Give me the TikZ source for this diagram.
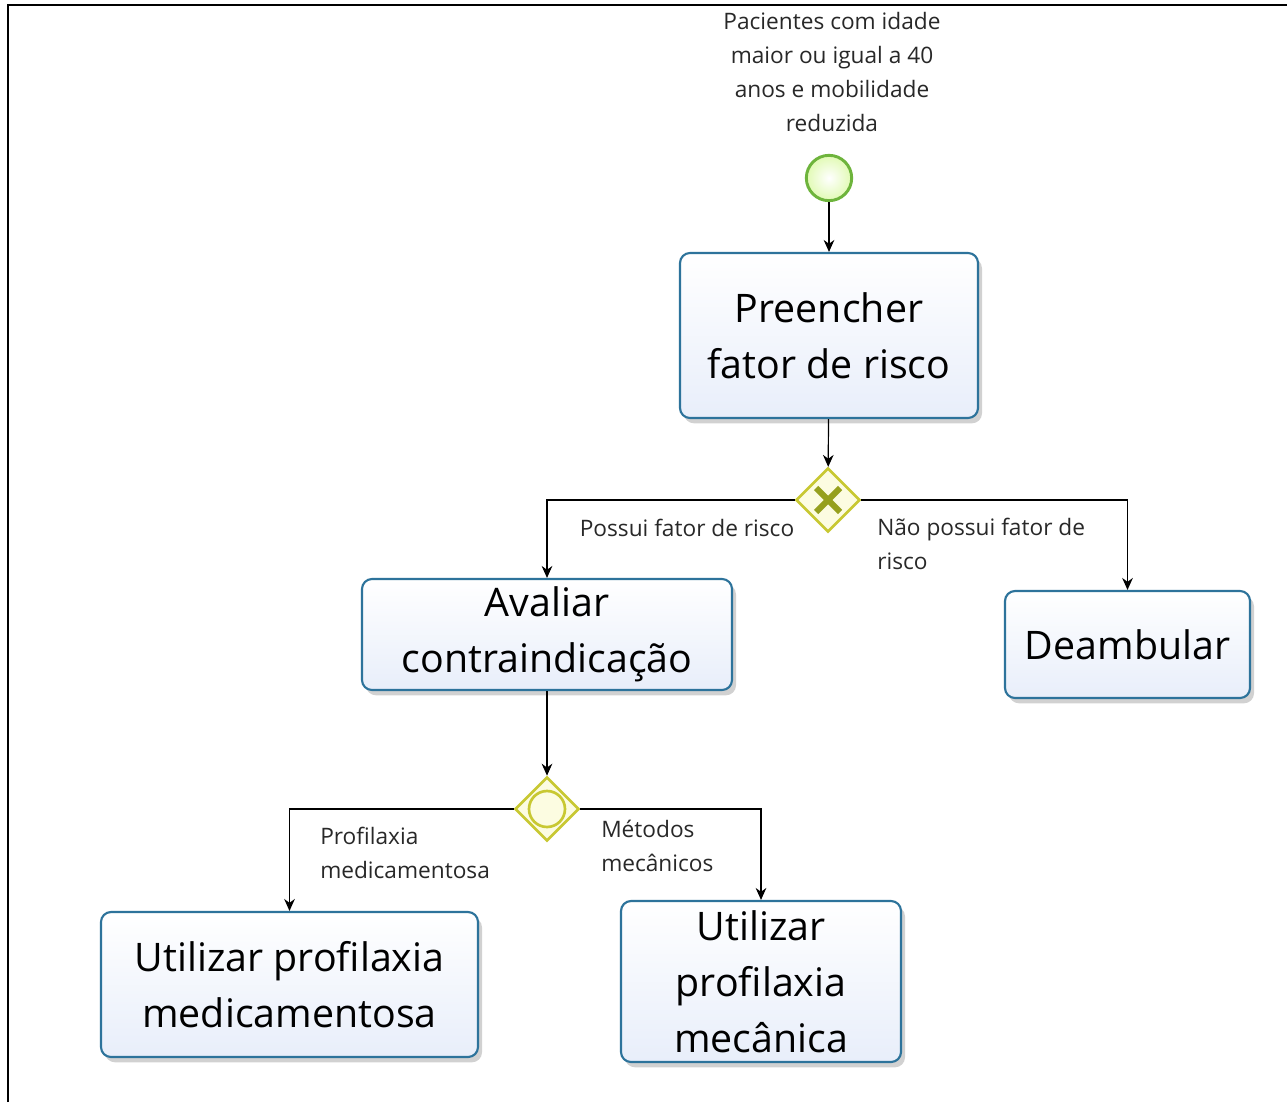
\documentclass[tikz,border=0pt]{standalone}
\usepackage{fontspec}
\setmainfont{Open Sans}
\usetikzlibrary{shapes.geometric,shadows,arrows.meta}
\definecolor{boxline}{RGB}{45,115,155}
\definecolor{boxfill}{RGB}{232,238,250}
\definecolor{gwline}{RGB}{200,200,50}
\definecolor{gwfill}{RGB}{252,252,225}
\definecolor{gwmark}{RGB}{150,160,30}
\definecolor{stline}{RGB}{110,180,60}
\definecolor{stfill}{RGB}{225,250,180}
\definecolor{labeltext}{RGB}{40,40,40}
\begin{document}
\begin{tikzpicture}[x=0.75pt,y=-0.75pt,
  task/.style={draw=boxline, line width=1.6pt, rounded corners=7.5pt,
    top color=white, bottom color=boxfill, align=center, inner sep=0pt,
    font=\fontsize{29.5}{42}\selectfont,
    drop shadow={shadow xshift=3pt,shadow yshift=-4pt,opacity=0.18,fill=black}},
  gateway/.style={diamond, draw=gwline, line width=2pt, fill=gwfill, aspect=1,
    minimum width=48pt, minimum height=48pt, inner sep=0pt},
  startev/.style={circle, draw=stline, line width=2.2pt, inner color=white, outer color=stfill,
    minimum size=34pt, inner sep=0pt},
  flow/.style={draw=black, line width=0.9pt, -{Stealth[length=9pt,width=8pt]}},
  lbl/.style={text=labeltext, font=\fontsize{17}{25.5}\selectfont, inner sep=0pt}
]
\useasboundingbox (0,0) rectangle (1287,1102);
\fill[white] (0,0) rectangle (1287,1102);
\draw[line width=1.6pt] (8,1102) -- (8,5) -- (1287,5);

% start event
\node[startev] (start) at (829,178) {};
\node[lbl, align=center, anchor=north] (startlbl) at (832,12) {Pacientes com idade\\maior ou igual a 40\\anos e mobilidade\\reduzida};

% tasks
\node[task, minimum width=223.5pt, minimum height=123.75pt] (t1) at (829,335.5) {Preencher\\fator de risco};
\node[task, minimum width=277.5pt, minimum height=83.25pt] (t2) at (547,634.5) {Avaliar\\contraindicação};
\node[task, minimum width=183.75pt, minimum height=80.25pt] (t3) at (1127.5,644.5) {Deambular};
\node[task, minimum width=282.75pt, minimum height=108.75pt] (t4) at (289.5,984.5) {Utilizar profilaxia\\medicamentosa};
\node[task, minimum width=210pt, minimum height=120.75pt] (t5) at (761,981.5) {Utilizar\\profilaxia\\mecânica};

% gateways
\node[gateway] (g1) at (828,500) {};
\draw[gwmark, line width=4.5pt] ([shift={(-12,-12)}]g1.center) -- ([shift={(12,12)}]g1.center);
\draw[gwmark, line width=4.5pt] ([shift={(-12,12)}]g1.center) -- ([shift={(12,-12)}]g1.center);
\node[gateway] (g2) at (547,809) {};
\draw[gwline, line width=2pt] (g2.center) circle[radius=18];

% flows
\draw[flow] (start) -- (t1);
\draw[flow] (t1) -- (g1);
\draw[flow] (g1.west) -| (t2.north);
\draw[flow] (g1.east) -| (t3.north);
\draw[flow] (t2) -- (g2);
\draw[flow] (g2.west) -| (t4.north);
\draw[flow] (g2.east) -| (t5.north);

% flow labels
\node[lbl, anchor=center] (l1) at (687,528) {Possui fator de risco};
\node[lbl, anchor=north west, align=left] (l2) at (877,518) {Não possui fator de\\risco};
\node[lbl, anchor=north west, align=left] (l3) at (320,827) {Profilaxia\\medicamentosa};
\node[lbl, anchor=north west, align=left] (l4) at (601,820) {Métodos\\mecânicos};
\end{tikzpicture}
\end{document}
